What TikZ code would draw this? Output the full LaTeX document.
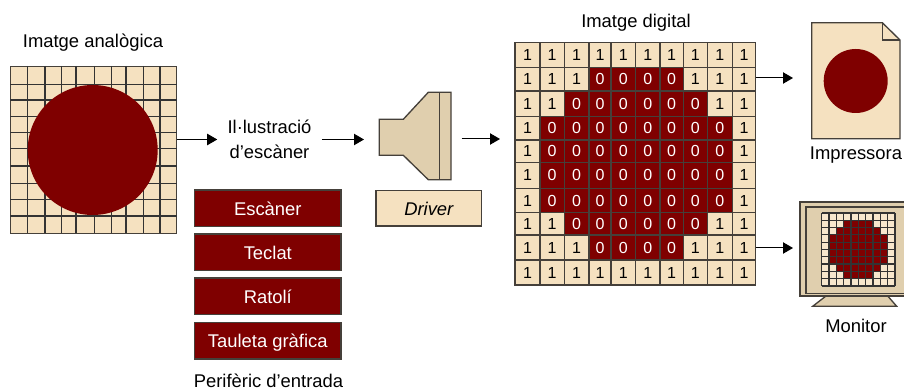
\documentclass[tikz,border=0pt]{standalone}
\usepackage{fontspec}
\setmainfont{Liberation Sans}
\usetikzlibrary{arrows.meta}
\definecolor{maroon}{HTML}{7F0000}
\definecolor{cream}{HTML}{F5E1C0}
\definecolor{tan}{HTML}{E0CFAE}
\definecolor{edge}{HTML}{45403A}
\tikzset{
	label/.style={inner sep=0pt,font=\fontsize{13.8}{19}\selectfont,align=center},
	device/.style={label,draw=edge,line width=1pt,fill=maroon,text=white,text height=11pt,text depth=0pt,minimum width=110pt,minimum height=27.5pt},
	bit0/.style={fill=maroon,text=white},
	bit1/.style={fill=cream,text=black},
	link/.style={->,line width=0.75pt,draw=black},
	gridline/.style={line width=1pt,draw=black!80}
}
\begin{document}
\begin{tikzpicture}[x=0.75pt,y=-0.75pt,>={Triangle[length=7.5pt,width=8.5pt]}]
		\useasboundingbox (0,0) rectangle (904,391);
		% analog image
		\node[label] (analoglabel) at (93,43) {Imatge analògica};
		\node[draw=edge,fill=cream,inner sep=0pt,minimum width=125pt,minimum height=125.5pt] (analog) at (93.3,149.7) {};
		\foreach \x in {27.7,45,61.7,76,94.3,111.7,126,143.3,160}\draw[gridline] (\x,66)--(\x,233.3);
		\foreach \y in {84.3,100,116.7,132.7,148.3,166,183.3,199.3,216}\draw[gridline] (10,\y)--(176.7,\y);
		\fill[maroon] (92.7,150) circle(65);
		% scanner
		\node[label,minimum width=78pt] (scan) at (269.5,139.5) {Il·lustració\\d’escàner};
		\draw[fill=tan,draw=edge,line width=1pt] (379.3,119.3)--(403.3,119.3)--(428.3,92.3)--(451,92.3)--(451,179.7)--(428.3,179.7)--(403.3,155.3)--(379.3,155.3)--cycle;
		\draw[draw=edge,line width=1pt] (439.3,92.3)--(439.3,179.7);
		\node[label,draw=edge,line width=1pt,fill=cream,text height=11pt,text depth=0pt,minimum width=79pt,minimum height=26.5pt] (driver) at (428.8,208.5) {\itshape Driver};
		% input devices
		\node[device] (scanner) at (267.8,208.3) {Escàner};
		\node[device] (keyboard) at (267.8,252.3) {Teclat};
		\node[device] (mouse) at (267.8,296.3) {Ratolí};
		\node[device] (tablet) at (267.8,340.6) {Tauleta gràfica};
		\node[label] (inputlabel) at (268.5,381) {Perifèric d’entrada};
		% digital image
		\node[label] (digitallabel) at (636,22.5) {Imatge digital};
		\foreach \ya/\yb/\lo/\hi [count=\r] in {42.7/67.7/10/-1,67.7/91/3/6,91/116.7/2/7,116.7/140/1/8,140/162.3/1/8,162.3/188.3/1/8,188.3/212.7/1/8,212.7/235/2/7,235/260/3/6,260/285/10/-1}
			\foreach \xa/\xb [count=\c from 0] in {515/540,540/564.3,564.3/589,589/611,611/635.7,635.7/660,660/683.3,683.3/707.3,707.3/732.3,732.3/755.7}{
				\ifnum\c<\lo \def\v{1}\else\ifnum\c>\hi \def\v{1}\else\def\v{0}\fi\fi
				\node[bit\v,draw=edge,line width=1pt,inner sep=0pt,font=\fontsize{12}{12}\selectfont,minimum width={(\xb-\xa)*0.75pt},minimum height={(\yb-\ya)*0.75pt}] (bit\r\c) at ({(\xa+\xb)/2},{(\ya+\yb)/2}) {\v};
			}
		\coordinate (digitalin) at (500,139);
		% printed page
		\draw[fill=cream,draw=edge,line width=1pt] (811.7,22.7)--(882.3,22.7)--(900,40)--(900,138.7)--(811.7,138.7)--cycle;
		\draw[draw=edge,line width=1pt] (882.3,22.7)--(882.3,40)--(900,40);
		\fill[maroon] (855.7,81) circle(32);
		\node[label] (printlabel) at (856,155.5) {Impressora};
		\coordinate (printin) at (793,78);
		% monitor
		\draw[fill=tan,draw=edge,line width=1pt] (812.7,306.3)--(826,296)--(887.7,296)--(896.7,306.3)--cycle;
		\fill[tan] (800,202) rectangle (904,296);
		\draw[draw=edge,line width=1pt] (904,202)--(800,202)--(800,296)--(904,296);
		\draw[draw=edge,line width=1pt] (904,207)--(806,207)--(806,293.7)--(904,293.7);
		\fill[cream!80!white] (821.7,213) rectangle (895,286);
		\foreach \ya/\yb/\lo/\hi in {220.3/228.3/3/6,228.3/235.3/2/7,235.3/242.6/1/8,242.6/250/1/8,250/257.3/1/8,257.3/264.6/1/8,264.6/271/2/7,271/278.6/3/6}
			\foreach \i in {\lo,...,\hi}\fill[maroon] ({821.7+\i*7.33},\ya) rectangle ({821.7+(\i+1)*7.33},\yb);
		\foreach \i in {0,...,10}\draw[black!80,line width=0.9pt] ({821.7+\i*7.33},213)--({821.7+\i*7.33},286);
		\foreach \i in {0,...,10}\draw[black!80,line width=0.9pt] (821.7,{213+\i*7.3})--(895,{213+\i*7.3});
		\node[label] (monitorlabel) at (856,326) {Monitor};
		\coordinate (monitorin) at (793,248);
		% links
		\draw[link] (analog.east |- scan) -- (scan.west);
		\coordinate (funnelin) at (364,139.5);
		\draw[link] (scan.east) -- (funnelin);
		\coordinate (funnelout) at (461.7,139);
		\draw[link] (funnelout) -- (digitalin);
		\coordinate (printout) at (755.7,78);
		\draw[link] (printout) -- (printin);
		\coordinate (monitorout) at (755.7,248);
		\draw[link] (monitorout) -- (monitorin);
\end{tikzpicture}
\end{document}
